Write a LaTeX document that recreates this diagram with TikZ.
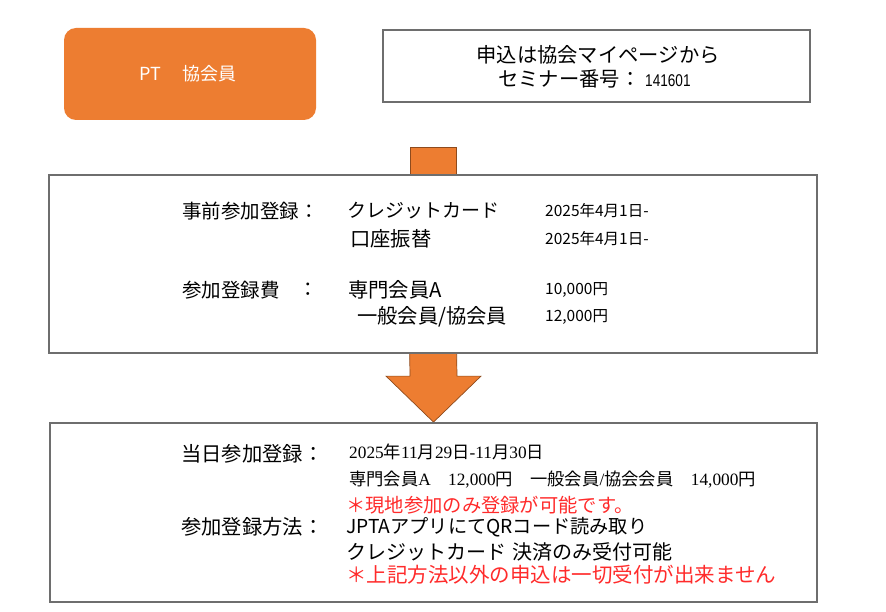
\documentclass[tikz,border=0pt]{standalone}
\usepackage{fontspec}
\setmainfont{Noto Sans CJK JP}
\newfontfamily\serifnum{Liberation Serif}
\newfontfamily\narrownum[FakeStretch=0.8]{Liberation Sans}
\newcommand\sn[1]{{\serifnum #1}}
\usetikzlibrary{calc,backgrounds}
\definecolor{ppt}{HTML}{ED7D31}
\definecolor{frame}{HTML}{6E6E6E}
\definecolor{note}{HTML}{FF2B2B}

\begin{document}
\begin{tikzpicture}[x=1pt,y=-1pt,
   box/.style={draw=frame,line width=1.8pt,fill=white,inner sep=0pt},
   blk/.style={fill=ppt,draw=ppt!60!black,line width=0.7pt},
   lab/.style={anchor=west,inner sep=0pt,font=\fontsize{19.5}{21}\selectfont},
   big/.style={anchor=west,inner sep=0pt,font=\fontsize{20.3}{22}\selectfont},
   val/.style={anchor=west,inner sep=0pt,font=\fontsize{15.5}{17}\selectfont},
   mn/.style={anchor=west,inner sep=0pt,font=\fontsize{17.3}{19}\selectfont},
   red/.style={text=note}]
\useasboundingbox (0,0) rectangle (886,612);
% top row
\node[box,draw=none,fill=ppt,rounded corners=12pt,minimum width=252pt,minimum height=92pt] (pt) at (190,74) {};
\node[anchor=west,inner sep=0pt,text=white,font=\fontsize{18}{20}\selectfont] (ptlab) at (139,74) {PT\hspace{22pt}協会員};
\node[box,minimum width=427pt,minimum height=72pt] (info) at (596.5,66) {};
\node[inner sep=0pt,font=\fontsize{20.3}{22}\selectfont] (apply) at (598,55) {申込は協会マイページから};
\node[big] (semi) at (498,79) {セミナー番号：};
\node[anchor=west,inner sep=0pt,font=\narrownum\fontsize{17}{19}\selectfont] (num) at (645,81) {141601};
% advance registration
\node[box,minimum width=768pt,minimum height=178pt] (pre) at (433,264) {};
\node[lab] (prelab) at (182,211) {事前参加登録：};
\node[lab,font=\fontsize{19}{21}\selectfont] (card) at (347,211) {クレジットカード};
\node[val] (d1) at (545,211) {2025年4月1日-};
\node[big] (bank) at (350,239) {口座振替};
\node[val] (d2) at (545,239) {2025年4月1日-};
\node[lab] (fee) at (182,290) {参加登録費};
\node[lab] (feecol) at (298,290) {：};
\node[big] (memA) at (348,290) {専門会員A};
\node[val] (feeA) at (545,290) {10,000円};
\node[big] (memB) at (357,317) {一般会員/協会員};
\node[val] (feeB) at (545,317) {12,000円};
% on-site registration
\node[box,minimum width=767pt,minimum height=179pt] (onsite) at (433.5,512.5) {};
\node[big] (onlab) at (181,454) {当日参加登録：};
\node[mn] (date) at (349,452) {\sn{2025}年\sn{11}月\sn{29}日\sn{-11}月\sn{30}日};
\node[mn] (fees) at (349,480) {専門会員\sn{A\quad 12,000}円\quad 一般会員\sn{/}協会会員\quad\sn{14,000}円};
\node[lab,red,font=\fontsize{19.3}{21}\selectfont] (note1) at (346,505) {＊現地参加のみ登録が可能です。};
\node[big] (how) at (181,527) {参加登録方法：};
\node[lab,font=\fontsize{19.2}{21}\selectfont] (app) at (346,527) {JPTAアプリにてQRコード読み取り};
\node[lab,font=\fontsize{20}{22}\selectfont] (pay) at (346,552) {クレジットカード\hspace{6pt}決済のみ受付可能};
\node[lab,red,font=\fontsize{20.5}{22}\selectfont] (note2) at (346,575) {＊上記方法以外の申込は一切受付が出来ません};
\begin{scope}[on background layer]
\fill[white] (0,0) rectangle (886,612);
\draw[blk] ($(pre.north)+(-23,-27)$) rectangle ($(pre.north)+(23,10)$);
\draw[blk] ($(pre.south)+(-23.5,-10)$) -- ($(onsite.north)+(-23.5,-46)$) -- ($(onsite.north)+(-47.5,-46)$)
   -- (onsite.north) -- ($(onsite.north)+(47.5,-46)$) -- ($(onsite.north)+(23.5,-46)$)
   -- ($(pre.south)+(23.5,-10)$) -- cycle;
\end{scope}
\end{tikzpicture}
\end{document}
